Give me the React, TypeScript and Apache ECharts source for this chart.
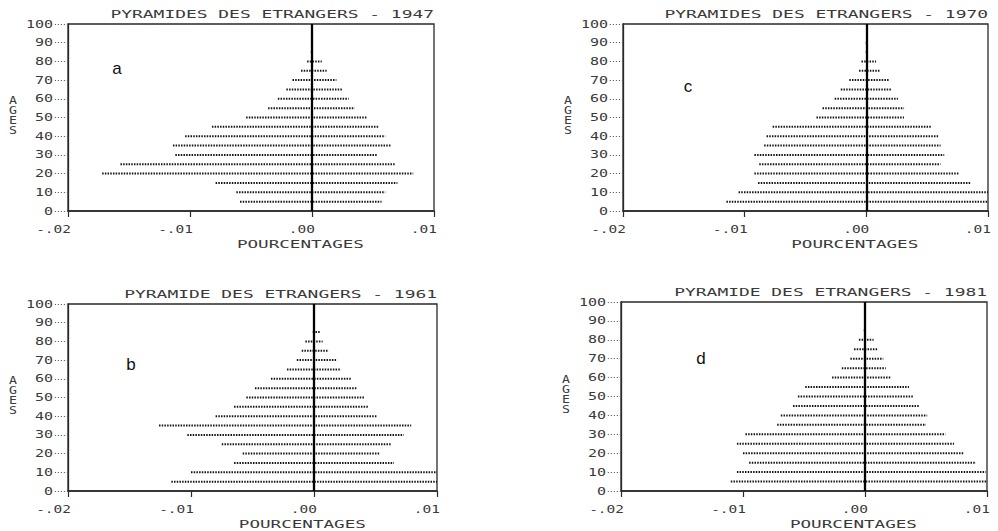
import React, { useEffect, useRef } from "react";
import * as echarts from "echarts";

// ---- data -------------------------------------------------------------
const ages = [5, 10, 15, 20, 25, 30, 35, 40, 45, 50, 55, 60, 65, 70, 75, 80, 85, 90];

const hommes1947 = [0.0059, 0.0062, 0.0079, 0.0172, 0.0157, 0.0112, 0.0114, 0.0104, 0.0082, 0.0054, 0.0036, 0.0028, 0.0021, 0.0016, 0.0009, 0.0004, 0.0001, 0.00005];
const femmes1947 = [0.0057, 0.006, 0.007, 0.0083, 0.0068, 0.0053, 0.0065, 0.006, 0.0055, 0.0045, 0.0035, 0.003, 0.0025, 0.002, 0.0012, 0.0008, 0.0001, 0.00005];

const hommes1961 = [0.0116, 0.01, 0.0065, 0.0058, 0.0075, 0.0103, 0.0126, 0.008, 0.0065, 0.0055, 0.0048, 0.0035, 0.0022, 0.0014, 0.001, 0.0007, 0.0001, 0.00005];
const femmes1961 = [0.01, 0.01, 0.0065, 0.0053, 0.0063, 0.0073, 0.0079, 0.0051, 0.0044, 0.0041, 0.0035, 0.003, 0.0022, 0.0018, 0.0012, 0.0007, 0.0005, 0.00005];

const hommes1970 = [0.0115, 0.0105, 0.0089, 0.0092, 0.0088, 0.0092, 0.0084, 0.0082, 0.0077, 0.0041, 0.0036, 0.0026, 0.0021, 0.0014, 0.0006, 0.0004, 0.00005, 0.00005];
const femmes1970 = [0.01, 0.01, 0.0086, 0.0076, 0.0061, 0.0064, 0.0061, 0.0059, 0.0053, 0.0031, 0.0031, 0.0026, 0.0021, 0.0019, 0.0011, 0.0008, 0.00005, 0.00005];

const hommes1981 = [0.011, 0.0105, 0.0095, 0.01, 0.0105, 0.0098, 0.0072, 0.0069, 0.0059, 0.0055, 0.0049, 0.0027, 0.0019, 0.0012, 0.0009, 0.0005, 0.0001, 0.00005];
const femmes1981 = [0.01, 0.0099, 0.0091, 0.0081, 0.0073, 0.0066, 0.005, 0.0051, 0.0045, 0.004, 0.0036, 0.0021, 0.0017, 0.0015, 0.001, 0.0007, 0.0001, 0.00005];

const titles = [
  "PYRAMIDES DES ETRANGERS - 1947",
  "PYRAMIDES DES ETRANGERS - 1970",
  "PYRAMIDE DES ETRANGERS - 1961",
  "PYRAMIDE DES ETRANGERS - 1981",
];
const letters = ["a", "c", "b", "d"];
const xTicks = [-0.02, -0.01, 0, 0.01];
const xTickLabels = ["-.02", "-.01", ".00", ".01"];
const yTicks = [0, 10, 20, 30, 40, 50, 60, 70, 80, 90, 100];
const xName = "POURCENTAGES";
const yName = "AGES";

const hommes = [hommes1947, hommes1970, hommes1961, hommes1981];
const femmes = [femmes1947, femmes1970, femmes1961, femmes1981];

// ---- layout -----------------------------------------------------------
const grids = [
  { left: 68, top: 24, width: 366, height: 187 },
  { left: 623, top: 24, width: 365, height: 187 },
  { left: 68, top: 304, width: 369, height: 187 },
  { left: 621, top: 302, width: 366, height: 189 },
];
const letterOffsets = [
  [49, 44],
  [65, 62],
  [63, 60],
  [80, 56],
];

const MONO = "'DejaVu Sans Mono', 'Liberation Mono', monospace";
const INK = "#2a2a2a";
const TXT = "#3a3a3a";

export default function App() {
  const ref = useRef<HTMLDivElement>(null);

  useEffect(() => {
    if (!ref.current) return;
    const chart = echarts.init(ref.current, undefined, { renderer: "svg" });

    const option: any = {
      animation: false,
      backgroundColor: "#ffffff",
      grid: grids.map((g) => ({
        ...g,
        show: true,
        borderColor: INK,
        borderWidth: 1.3,
        backgroundColor: "transparent",
        containLabel: false,
      })),
      xAxis: grids.map((_, i) => ({
        type: "value",
        gridIndex: i,
        min: -0.02,
        max: 0.01,
        interval: 0.01,
        axisLine: { show: true, onZero: false, lineStyle: { color: INK, width: 1.6 } },
        axisTick: { show: true, length: 6, lineStyle: { color: INK, width: 1.2 } },
        axisLabel: { show: false },
        splitLine: { show: false },
      })),
      yAxis: grids.map((_, i) => ({
        type: "value",
        gridIndex: i,
        min: 0,
        max: 100,
        interval: 10,
        axisLine: { show: true, onZero: false, lineStyle: { color: INK, width: 1.3 } },
        axisTick: { show: true, length: 14, lineStyle: { color: "#666", width: 1.2, type: [1.2, 1.8] } },
        axisLabel: { show: false },
        splitLine: { show: false },
      })),
      series: grids.map((_, i) => ({
        type: "custom",
        xAxisIndex: i,
        yAxisIndex: i,
        clip: true,
        data: ages.map((a, k) => [a, -hommes[i][k], femmes[i][k]]),
        encode: { x: [1, 2], y: 0 },
        renderItem: (params: any, api: any) => {
          const age = api.value(0);
          const p1 = api.coord([api.value(1), age]);
          const p2 = api.coord([api.value(2), age]);
          return {
            type: "line",
            shape: { x1: p1[0], y1: p1[1], x2: p2[0], y2: p2[1] },
            style: { stroke: "#151515", lineWidth: 2, lineDash: [1.5, 1.2] },
          };
        },
        markLine: {
          silent: true,
          symbol: ["none", "none"],
          label: { show: false },
          lineStyle: { color: "#000", width: 2.3, type: "solid" },
          data: [{ xAxis: 0 }],
        },
      })),
    };
    chart.setOption(option);

    const graphics: any[] = [];
    grids.forEach((_, i) => {
      const conv = (x: number, y: number) => chart.convertToPixel({ gridIndex: i }, [x, y]) as number[];
      const [left, bottom] = conv(-0.02, 0);
      const [right, top] = conv(0.01, 100);

      graphics.push({
        type: "text",
        x: right,
        y: top - 10,
        scaleX: 1.63,
        style: { text: titles[i], fontFamily: MONO, fontSize: 11, fill: TXT, align: "right", verticalAlign: "middle" },
      });
      xTicks.forEach((t, k) => {
        const px = conv(t, 0)[0];
        graphics.push({
          type: "text",
          x: px + 3,
          y: bottom + 18,
          scaleX: 1.45,
          style: { text: xTickLabels[k], fontFamily: MONO, fontSize: 10, fill: TXT, align: "right", verticalAlign: "middle" },
        });
      });
      yTicks.forEach((t) => {
        const py = conv(-0.02, t)[1];
        graphics.push({
          type: "text",
          x: left - 15,
          y: py,
          scaleX: 1.5,
          style: { text: String(t), fontFamily: MONO, fontSize: 10, fill: TXT, align: "right", verticalAlign: "middle" },
        });
      });
      graphics.push({
        type: "text",
        x: left + (right - left) * 0.635,
        y: bottom + 33,
        scaleX: 1.6,
        style: { text: xName, fontFamily: MONO, fontSize: 11, fill: TXT, align: "center", verticalAlign: "middle" },
      });
      graphics.push({
        type: "text",
        x: left - 55,
        y: (top + bottom) / 2 - 2,
        scaleX: 1.2,
        style: {
          text: yName.split("").join("\n"),
          fontFamily: MONO,
          fontSize: 11,
          lineHeight: 10,
          fill: TXT,
          align: "center",
          verticalAlign: "middle",
        },
      });
      graphics.push({
        type: "text",
        x: left + letterOffsets[i][0],
        y: top + letterOffsets[i][1],
        style: {
          text: letters[i],
          fontFamily: "'Liberation Sans', Arial, sans-serif",
          fontSize: 17,
          fill: "#111",
          align: "center",
          verticalAlign: "middle",
        },
      });
    });
    chart.setOption({ graphic: graphics });

    return () => chart.dispose();
  }, []);

  return (
    <div
      ref={ref}
      style={{ position: "absolute", left: 0, top: 0, width: 998, height: 531, background: "#fff" }}
    />
  );
}
